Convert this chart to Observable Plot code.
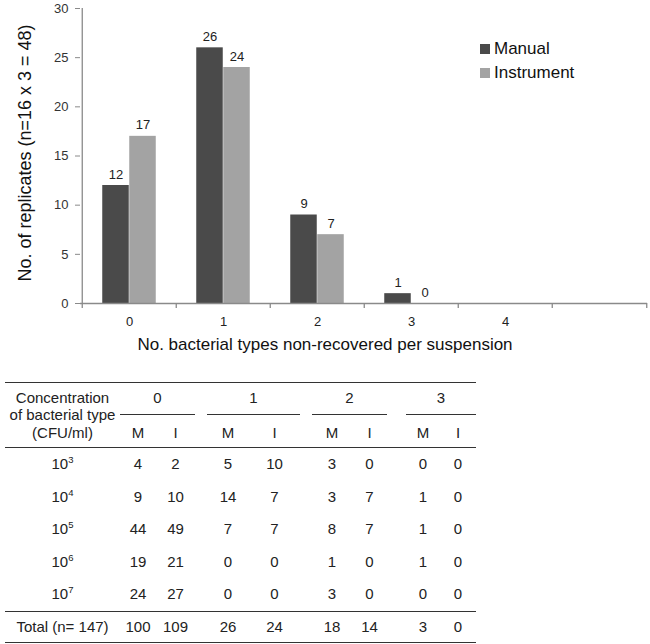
<!DOCTYPE html>
<html><head><meta charset="utf-8">
<script src="https://cdn.jsdelivr.net/npm/d3@7"></script>
<script src="https://cdn.jsdelivr.net/npm/@observablehq/plot@0.6"></script>
<style>
html,body{margin:0;padding:0;background:#fff;}
body{width:650px;height:644px;position:relative;overflow:hidden;font-family:"Liberation Sans",Arial,Helvetica,sans-serif;}
#chart{position:absolute;left:0;top:0;}
#legend{position:absolute;left:480px;top:37px;font-size:17px;color:#111;}
.sw{display:flex;align-items:center;height:24px;}
.sw i{display:inline-block;width:10px;height:10px;margin-right:4px;}
#tbl{position:absolute;left:5px;top:382px;border-collapse:collapse;table-layout:fixed;font-size:15px;color:#222;}
#tbl td{padding:0;text-align:center;vertical-align:middle;white-space:nowrap;line-height:16px;}
#tbl tr.top td{border-top:1.5px solid #333;}
#tbl tr.h1 td{height:32px;vertical-align:bottom;}
#tbl tr.h2 td{height:28px;padding-top:4px;border-bottom:1.5px solid #333;}
#tbl td.lab{border-bottom:1.5px solid #333;line-height:17.5px;vertical-align:middle !important;}
#tbl tr.d td{height:32.5px;}
#tbl tr.tot td{height:30px;border-top:1.5px solid #333;border-bottom:1.5px solid #333;}
#tbl .g{border-bottom:1.3px solid #333;padding-bottom:8px;}
#tbl sup{font-size:9.5px;vertical-align:6px;line-height:0;}
</style></head>
<body>
<div id="chart"></div>
<div id="legend"></div>
<table id="tbl"></table>
<script>
// ---- chart data ----
const categories = ["0", "1", "2", "3", "4", ""];
const series = ["Manual", "Instrument"];
const colors = ["#4a4a4a", "#a3a3a3"];
const manual = [12, 26, 9, 1, null, null];
const instrument = [17, 24, 7, 0, null, null];
const yTicks = [0, 5, 10, 15, 20, 25, 30];
const xTitle = "No. bacterial types non-recovered per suspension";
const yTitle = "No. of replicates (n=16 x 3 = 48)";

// ---- table data ----
const tableHeader = ["Concentration", "of bacterial type", "(CFU/ml)"];
const groupLabels = ["0", "1", "2", "3"];
const subLabels = ["M", "I"];
const exponents = ["3", "4", "5", "6", "7"];
const tableM = [[4, 5, 3, 0], [9, 14, 3, 1], [44, 7, 8, 1], [19, 0, 1, 1], [24, 0, 3, 0]];
const tableI = [[2, 10, 0, 0], [10, 7, 7, 0], [49, 7, 7, 0], [21, 0, 0, 0], [27, 0, 0, 0]];
const totalLabel = "Total (n= 147)";
const totalsM = [100, 26, 18, 3];
const totalsI = [109, 24, 14, 0];

// ---- chart ----
const W = 650, H = 370, ML = 80, MR = 3, MT = 8, MB = 67;
const BW = (W - ML - MR) / categories.length;
const barW = BW * 0.2857;
const rows = [];
categories.forEach((c, i) => {
  [manual, instrument].forEach((arr, j) => {
    if (arr[i] != null) rows.push({category: c, series: series[j], value: arr[i]});
  });
});
const man = rows.filter(d => d.series === "Manual");
const ins = rows.filter(d => d.series === "Instrument");
const axisColor = "#8a8a8a";

const chart = Plot.plot({
  width: W, height: H, marginLeft: ML, marginRight: MR, marginTop: MT, marginBottom: MB,
  style: {fontFamily: "Liberation Sans, Arial, sans-serif", fontSize: "13px", color: "#333", background: "white"},
  x: {domain: categories, padding: 0, axis: null},
  y: {domain: [0, 30], axis: null},
  color: {domain: series, range: colors},
  marks: [
    Plot.barY(man, {x: "category", y: "value", fill: "series", insetLeft: BW / 2 - barW, insetRight: BW / 2}),
    Plot.barY(ins, {x: "category", y: "value", fill: "series", insetLeft: BW / 2, insetRight: BW / 2 - barW}),
    Plot.text(man, {x: "category", y: "value", text: d => String(d.value), dx: -barW / 2, dy: -7, lineAnchor: "bottom", fill: "#222", fontSize: 13}),
    Plot.text(ins, {x: "category", y: "value", text: d => String(d.value), dx: barW / 2, dy: -7, lineAnchor: "bottom", fill: "#222", fontSize: 13}),
    Plot.ruleY([0], {stroke: axisColor, strokeWidth: 1.3}),
    Plot.ruleX([categories[0]], {y1: 0, y2: 30, dx: -BW / 2, stroke: axisColor, strokeWidth: 1.3}),
    Plot.ruleX(categories, {x: d => d, y1: 0, y2: -0.5, dx: -BW / 2, stroke: axisColor, strokeWidth: 1.3}),
    Plot.ruleX([categories[categories.length - 1]], {y1: 0, y2: -0.5, dx: BW / 2, stroke: axisColor, strokeWidth: 1.3}),
    Plot.axisY({ticks: yTicks, tickSize: 5, tickPadding: 7, stroke: axisColor, fill: "#333", fontSize: 13, label: null}),
    Plot.axisX({ticks: categories.filter(c => c !== ""), tickSize: 0, tickPadding: 13, fill: "#222", fontSize: 13, label: null}),
    Plot.text([xTitle], {frameAnchor: "bottom", dx: -39, dy: 46, fontSize: 17, fill: "#111"}),
    Plot.text([yTitle], {frameAnchor: "left", textAnchor: "middle", rotate: -90, dx: -55, dy: -3, fontSize: 18, fill: "#111"})
  ]
});
document.getElementById("chart").appendChild(chart);

// ---- legend ----
const leg = document.getElementById("legend");
series.forEach((s, i) => {
  const row = document.createElement("div");
  row.className = "sw";
  row.innerHTML = `<i style="background:${colors[i]}"></i><span>${s}</span>`;
  leg.appendChild(row);
});

// ---- table ----
const colW = [115, 36, 39, 12, 42, 51, 12, 40, 35, 19, 34, 36];
const tbl = document.getElementById("tbl");
let html = "<colgroup>" + colW.map(w => `<col style="width:${w}px">`).join("") + "</colgroup>";
html += `<tr class="top h1"><td class="lab" rowspan="2">${tableHeader.join("<br>")}</td>`;
groupLabels.forEach((g, k) => {
  html += `<td colspan="2"><div class="g">${g}</div></td>`;
  if (k < groupLabels.length - 1) html += "<td></td>";
});
html += "</tr><tr class=\"h2\">";
groupLabels.forEach((g, k) => {
  html += subLabels.map(s => `<td>${s}</td>`).join("");
  if (k < groupLabels.length - 1) html += "<td></td>";
});
html += "</tr>";
exponents.forEach((e, r) => {
  html += `<tr class="d"><td>10<sup>${e}</sup></td>`;
  groupLabels.forEach((g, k) => {
    html += `<td>${tableM[r][k]}</td><td>${tableI[r][k]}</td>`;
    if (k < groupLabels.length - 1) html += "<td></td>";
  });
  html += "</tr>";
});
html += `<tr class="tot"><td>${totalLabel}</td>`;
groupLabels.forEach((g, k) => {
  html += `<td>${totalsM[k]}</td><td>${totalsI[k]}</td>`;
  if (k < groupLabels.length - 1) html += "<td></td>";
});
html += "</tr>";
tbl.innerHTML = html;
</script>
</body></html>
